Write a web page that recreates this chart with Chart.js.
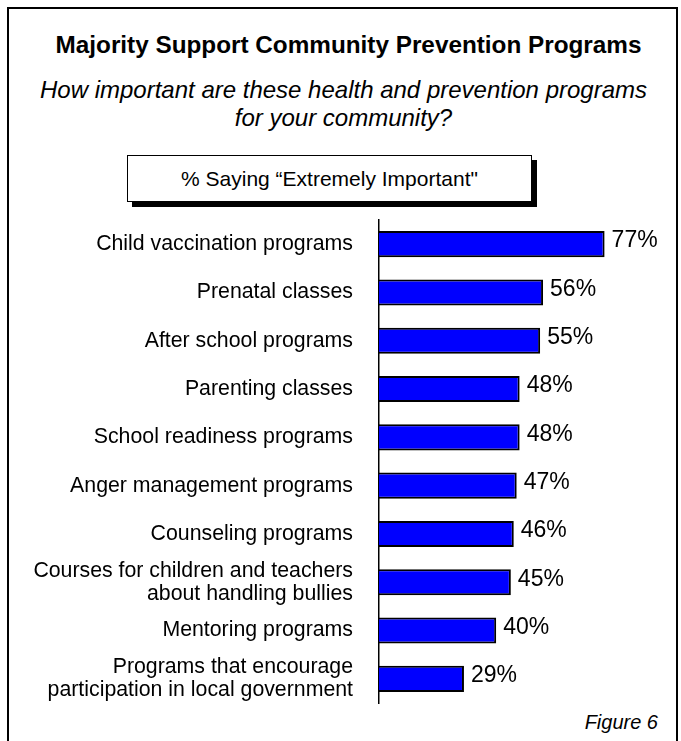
<!DOCTYPE html>
<html>
<head>
<meta charset="utf-8">
<script src="https://cdn.jsdelivr.net/npm/chart.js@4"></script>
<style>
  html, body { margin: 0; padding: 0; background: #fff; overflow: hidden; }
  body { width: 681px; height: 741px; position: relative; font-family: "Liberation Sans", Arial, sans-serif; color: #000; }
  #frame { position: absolute; left: 7px; top: 7px; width: 667px; height: 760px; border: 2px solid #000; }
  #title { position: absolute; left: 8px; width: 681px; top: 31px; text-align: center; font-weight: bold; font-size: 24.3px; line-height: 28px; }
  #subtitle { position: absolute; left: 3px; width: 681px; top: 76px; text-align: center; font-style: italic; font-size: 24px; line-height: 28px; }
  #legendBox { position: absolute; left: 127px; top: 155px; width: 403px; height: 45px; border: 1.5px solid #000; box-shadow: 5px 5px 0 #000; background: #fff;
               text-align: center; line-height: 45px; font-size: 21px; }
  #figure { position: absolute; right: 23px; top: 710px; font-style: italic; font-size: 20px; line-height: 24px; }
  canvas { position: absolute; left: 0; top: 0; }
</style>
</head>
<body>
<div id="frame"></div>
<div id="title">Majority Support Community Prevention Programs</div>
<div id="subtitle">How important are these health and prevention programs<br>for your community?</div>
<div id="legendBox">% Saying “Extremely Important"</div>
<div id="figure">Figure 6</div>
<canvas id="chart" width="681" height="741"></canvas>
<script>
const programs = [
  'Child vaccination programs',
  'Prenatal classes',
  'After school programs',
  'Parenting classes',
  'School readiness programs',
  'Anger management programs',
  'Counseling programs',
  ['Courses for children and teachers', 'about handling bullies'],
  'Mentoring programs',
  ['Programs that encourage', 'participation in local government']
];
const extremelyImportant = [77, 56, 55, 48, 48, 47, 46, 45, 40, 29];

// write the percentage just past the end of each bar
const valueLabels = {
  id: 'valueLabels',
  afterDatasetsDraw(chart) {
    const ctx = chart.ctx;
    const meta = chart.getDatasetMeta(0);
    ctx.save();
    ctx.font = '23px "Liberation Sans", Arial, sans-serif';
    ctx.fillStyle = '#000';
    ctx.textAlign = 'left';
    ctx.textBaseline = 'middle';
    meta.data.forEach((bar, i) => {
      ctx.fillText(extremelyImportant[i] + '%', bar.x + 7, bar.y - 3);
    });
    ctx.restore();
  }
};

new Chart(document.getElementById('chart'), {
  type: 'bar',
  data: {
    labels: programs,
    datasets: [{
      data: extremelyImportant,
      backgroundColor: '#0000ff',
      borderColor: '#000',
      borderWidth: 2,
      borderSkipped: 'left',
      barPercentage: 0.54,
      categoryPercentage: 1
    }]
  },
  options: {
    indexAxis: 'y',
    responsive: false,
    animation: false,
    layout: { padding: { left: 0, right: 9, top: 220, bottom: 38 } },
    plugins: {
      legend: { display: false },
      tooltip: { enabled: false }
    },
    scales: {
      x: { display: false, min: 0, max: 100 },
      y: {
        afterFit(scale) { scale.width = 379; },
        grid: { display: false, drawTicks: false },
        border: { display: true, color: '#000', width: 1.5 },
        ticks: {
          color: '#000',
          padding: 26,
          autoSkip: false,
          font: { family: '"Liberation Sans", Arial, sans-serif', size: 21.3, lineHeight: 1.08 }
        }
      }
    }
  },
  plugins: [valueLabels]
});
</script>
</body>
</html>
